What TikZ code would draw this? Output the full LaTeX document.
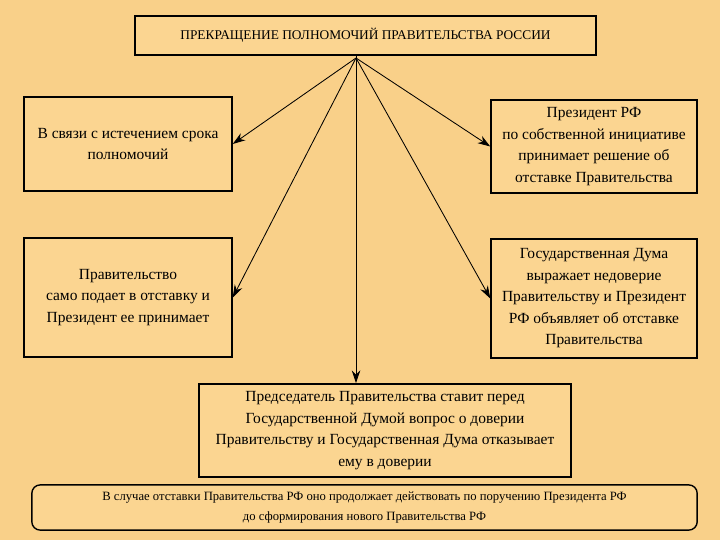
\documentclass[tikz,border=0pt]{standalone}
\usepackage{fontspec}
\setmainfont{Liberation Serif}
\usepackage{xcolor}
\usepackage{tikz}
\usetikzlibrary{calc, positioning, arrows.meta}

\definecolor{paper}{RGB}{249,208,137}
\definecolor{boxfill}{RGB}{251,213,145}

\tikzset{
    frame/.style={draw, line width=1pt, fill=boxfill, align=center,
        inner sep=2pt, font=\fontsize{11}{15.3}\selectfont},
    link/.style={-{Stealth[length=9pt,width=6pt]}, line width=0.6pt}
}

\begin{document}
\begin{tikzpicture}[x=0.025cm, y=-0.025cm]
    \fill[paper] (0,0) rectangle (720,540);
    \useasboundingbox (0,0) rectangle (720,540);

    \node[frame, minimum width=11.53cm, minimum height=0.98cm,
        font=\fontsize{9.5}{12}\selectfont] (title) at (365.5,35.5)
        {ПРЕКРАЩЕНИЕ ПОЛНОМОЧИЙ ПРАВИТЕЛЬСТВА РОССИИ};
    \coordinate (hub) at (356,58);

    \node[frame, minimum width=5.2cm, minimum height=2.35cm] (expiry) at (128,144)
        {В связи с истечением срока\\полномочий};
    \node[frame, minimum width=5.15cm, minimum height=2.33cm] (president) at (594,146.5)
        {Президент РФ\\по собственной инициативе\\принимает решение об\\отставке Правительства};
    \node[frame, minimum width=5.2cm, minimum height=2.98cm] (resign) at (128,297.5)
        {Правительство\\само подает в отставку и\\Президент ее принимает};
    \node[frame, minimum width=5.15cm, minimum height=2.98cm] (distrust) at (594,298.5)
        {Государственная Дума\\выражает недоверие\\Правительству и Президент\\РФ объявляет об отставке\\Правительства};
    \node[frame, minimum width=9.3cm, minimum height=2.33cm] (confidence) at (385,430.5)
        {Председатель Правительства ставит перед\\Государственной Думой вопрос о доверии\\Правительству и Государственная Дума отказывает\\ему в доверии};

    \node[frame, rounded corners=6pt, minimum width=16.63cm, minimum height=1.13cm,
        font=\fontsize{9}{14}\selectfont] (note) at (364.5,507.5)
        {В случае отставки Правительства РФ оно продолжает действовать по поручению Президента РФ\\до сформирования нового Правительства РФ};

    % arrows from the title
    \draw[line width=0.6pt] (title.south -| hub) -- (hub);
    \draw[link] (hub) -- (expiry.east);
    \draw[link] (hub) -- (president.west);
    \draw[link] (hub) -- (resign.east);
    \draw[link] (hub) -- (distrust.west);
    \draw[link] (hub) -- (hub |- confidence.north);
\end{tikzpicture}
\end{document}
